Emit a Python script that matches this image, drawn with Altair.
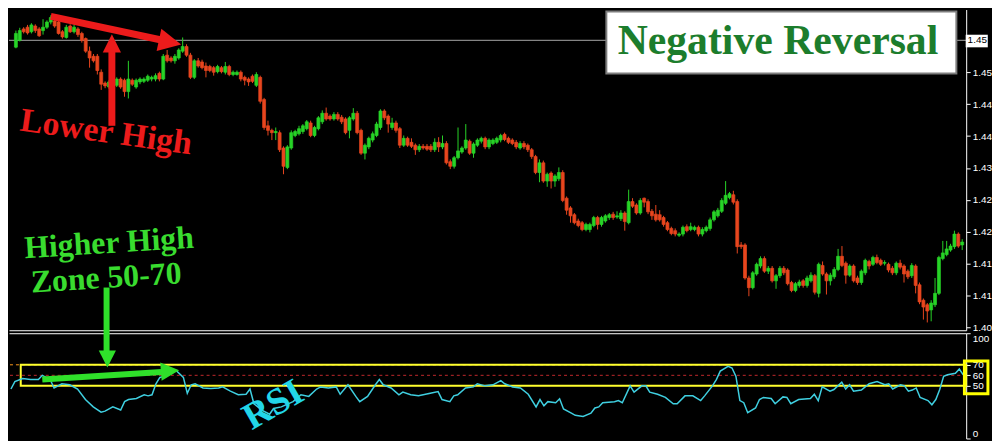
import altair as alt
import pandas as pd

# ---------------- candle data (price in points of 0.0001) ----------------
open_pts = [14560,14572,14592,14595,14587,14597,14592,14589,14595,14604,
14606,14604,14587,14577,14597,14587,14592,14584,14575,14553,
14544,14544,14516,14497,14490,14497,14493,14504,14502,14482,
14502,14490,14499,14500,14502,14504,14504,14514,14504,14546,
14541,14536,14541,14553,14561,14546,14507,14536,14534,14527,
14526,14524,14517,14524,14516,14526,14512,14512,14516,14507,
14504,14509,14493,14507,14468,14422,14414,14410,14410,14383,
14349,14383,14405,14408,14412,14417,14427,14405,14417,14429,
14444,14439,14434,14442,14437,14434,14414,14434,14444,14414,
14374,14385,14397,14405,14419,14448,14439,14419,14427,14417,
14388,14400,14393,14388,14380,14386,14386,14386,14380,14393,
14385,14391,14359,14351,14366,14376,14383,14395,14374,14388,
14395,14400,14385,14391,14393,14397,14407,14400,14397,14393,
14383,14391,14388,14380,14368,14340,14357,14325,14339,14325,
14329,14340,14295,14278,14266,14255,14252,14240,14240,14247,
14261,14249,14255,14261,14267,14262,14259,14269,14252,14289,
14283,14269,14295,14289,14272,14267,14266,14261,14252,14242,
14238,14230,14232,14245,14240,14240,14244,14232,14238,14242,
14257,14264,14272,14286,14296,14301,14289,14213,14213,14155,
14138,14162,14176,14189,14167,14172,14150,14159,14172,14169,
14147,14133,14142,14150,14142,14150,14159,14128,14177,14162,
14150,14157,14170,14193,14181,14160,14176,14155,14147,14164,
14184,14179,14191,14186,14181,14179,14172,14164,14181,14176,
14167,14159,14176,14143,14116,14108,14099,14108,14128,14189,
14196,14204,14210,14232,14213]

close_pts = [14584,14589,14587,14585,14599,14589,14580,14595,14604,14612,
14597,14584,14578,14595,14587,14595,14582,14572,14553,14541,
14536,14519,14495,14492,14499,14493,14504,14490,14482,14504,
14495,14502,14504,14504,14509,14507,14510,14504,14544,14536,
14536,14544,14555,14561,14546,14507,14536,14527,14524,14519,
14519,14516,14526,14517,14526,14512,14516,14516,14504,14502,
14499,14500,14512,14465,14419,14414,14410,14412,14380,14351,
14385,14410,14412,14417,14422,14429,14405,14419,14436,14444,
14434,14434,14442,14434,14429,14410,14436,14444,14410,14374,
14388,14400,14408,14425,14448,14436,14425,14427,14414,14388,
14400,14388,14386,14380,14386,14383,14381,14380,14393,14385,
14391,14357,14351,14366,14378,14383,14397,14374,14390,14397,
14400,14385,14397,14397,14400,14405,14398,14393,14391,14385,
14391,14385,14380,14368,14340,14357,14325,14337,14325,14334,
14340,14291,14274,14264,14252,14247,14240,14249,14249,14261,
14249,14261,14264,14266,14261,14264,14269,14254,14289,14281,
14269,14291,14288,14271,14264,14257,14257,14249,14240,14233,
14232,14232,14244,14238,14245,14244,14232,14240,14244,14257,
14271,14274,14291,14300,14303,14288,14210,14210,14155,14138,
14164,14179,14189,14167,14172,14150,14159,14172,14164,14145,
14133,14145,14148,14142,14155,14160,14130,14179,14162,14150,
14160,14170,14193,14177,14160,14176,14150,14147,14167,14186,
14176,14191,14182,14179,14182,14169,14164,14181,14174,14162,
14157,14177,14142,14113,14104,14097,14111,14128,14191,14199,
14206,14211,14232,14211,14218]

high_pts = [14589,14594,14595,14599,14602,14600,14595,14609,14607,14616,
14609,14606,14590,14599,14600,14600,14595,14587,14577,14561,
14548,14548,14521,14500,14502,14500,14507,14507,14505,14536,
14505,14505,14507,14507,14512,14510,14514,14517,14548,14555,
14544,14548,14558,14577,14565,14550,14539,14541,14538,14533,
14529,14527,14529,14527,14534,14529,14519,14519,14519,14510,
14507,14512,14516,14510,14471,14431,14417,14419,14414,14386,
14388,14414,14415,14422,14425,14432,14431,14422,14439,14449,
14454,14442,14446,14446,14441,14437,14439,14453,14448,14417,
14391,14403,14412,14429,14451,14451,14442,14436,14431,14420,
14405,14403,14400,14391,14390,14390,14390,14390,14400,14402,
14405,14395,14363,14369,14419,14386,14425,14398,14393,14400,
14403,14403,14400,14400,14403,14408,14410,14403,14400,14397,
14395,14395,14391,14383,14371,14363,14361,14340,14342,14337,
14349,14344,14298,14281,14269,14259,14255,14252,14252,14264,
14264,14264,14267,14269,14271,14272,14274,14272,14310,14295,
14286,14295,14296,14293,14276,14283,14274,14264,14255,14245,
14242,14235,14247,14249,14252,14247,14247,14244,14247,14261,
14274,14278,14295,14325,14306,14308,14293,14218,14216,14159,
14167,14182,14193,14193,14176,14176,14162,14176,14176,14172,
14150,14148,14152,14153,14159,14165,14162,14182,14184,14165,
14164,14174,14206,14211,14184,14179,14179,14159,14170,14189,
14187,14194,14196,14189,14186,14182,14176,14184,14187,14179,
14170,14181,14179,14147,14119,14111,14116,14155,14194,14220,
14220,14215,14238,14235,14223]

low_pts = [14558,14570,14584,14582,14584,14585,14578,14582,14592,14600,
14594,14582,14575,14575,14585,14584,14578,14568,14550,14524,
14533,14512,14485,14488,14487,14490,14490,14487,14473,14470,
14492,14487,14495,14497,14499,14500,14500,14500,14502,14533,
14533,14531,14538,14550,14543,14504,14504,14524,14521,14507,
14516,14510,14514,14514,14512,14509,14509,14510,14500,14493,
14492,14497,14490,14461,14415,14405,14397,14397,14376,14337,
14346,14380,14402,14405,14408,14414,14402,14402,14414,14425,
14431,14431,14431,14431,14425,14407,14400,14431,14407,14371,
14363,14381,14393,14402,14415,14432,14410,14415,14410,14383,
14385,14385,14383,14371,14376,14380,14378,14376,14376,14376,
14381,14354,14346,14347,14363,14373,14380,14371,14366,14385,
14391,14381,14381,14388,14390,14393,14395,14390,14388,14381,
14380,14381,14376,14364,14337,14323,14322,14315,14312,14315,
14325,14288,14266,14252,14249,14244,14237,14237,14235,14244,
14240,14245,14252,14257,14257,14259,14255,14238,14249,14278,
14266,14266,14279,14267,14257,14254,14254,14245,14237,14230,
14228,14227,14228,14235,14237,14237,14228,14228,14235,14238,
14254,14261,14269,14283,14293,14284,14198,14206,14152,14123,
14135,14159,14172,14164,14162,14147,14136,14155,14160,14142,
14130,14130,14138,14138,14138,14147,14126,14121,14159,14126,
14142,14153,14167,14174,14145,14157,14147,14143,14143,14160,
14170,14176,14179,14176,14177,14165,14160,14160,14170,14147,
14153,14155,14128,14109,14082,14077,14079,14104,14125,14186,
14193,14201,14206,14208,14204]

# ---------------- RSI(14) read at bar positions ----------------
rsi_bar = [0,1,3,5,7,8,10,11,13,15,
17,19,21,23,24,26,28,29,30,32,
34,35,36,37,38,39,41,42,44,45,
46,47,49,51,53,54,56,58,60,61,
62,64,66,67,69,72,74,76,78,79,
81,83,84,86,88,89,91,93,94,95,
97,99,100,102,104,107,109,110,112,113,
114,116,118,119,121,123,125,126,128,130,
132,134,135,136,137,139,140,141,143,144,
146,148,149,150,151,154,155,156,158,159,
161,162,163,165,167,169,170,172,174,176,
177,179,180,181,183,184,185,186,187,188,
190,191,192,194,195,197,198,199,201,204,
205,206,207,209,210,212,213,214,215,217,
219,221,223,224,225,227,228,229,230,231,
232,234,235,236,237,238,239,241,242,243]
rsi_val = [47,54,57,56,56,60,56,48,52,51,
47,37,30,25,26,30,27,35,37,38,
41.5,40.5,41.5,52,58,59,61.6,65,58,43,
51,52,48,47.5,48,49,45,41.5,42,47,
33,27,23,28.5,30,35,41.5,40,47,49,
48,49,42,51,40,35,40,51,56,51,
48,41.5,44,41.5,40.5,43,44.5,37,35,40.5,
41.5,48,49,52,50,51,55,52,49,48,
42,30,37,31,35,34,37.7,28,24,22,
21,24,29,30,34,35,36,34,50,44,
50,50,44,42,39,33,33,40.5,40.5,36,
40.5,50,56,64,68.6,67,59,36,34,24.5,
29,37,39,38,33,39.5,39,33,37,38,
42,36,49,45,46.5,53.5,47,51,45,46,
52,54,51,52,47,51,50,45,46,48,
39,36,32,37,46.5,59,60.6,62,66,60.5]

# axis values
price_ticks = [1.4068, 1.4124, 1.4180, 1.4236, 1.4292, 1.4348, 1.4404, 1.4460, 1.4516]
marked_price = 1.4572
rsi_ticks = [0, 50, 60, 70, 100]
rsi_levels = [60, 70]

UP = "#27d327"
DOWN = "#e8461e"
RED = "#ec1b1b"
GREEN_ARROW = "#2fe02a"
GREEN_TEXT = "#39dc2f"
CYAN = "#3fcfe0"
HEAD = "M-1,-1L1,0L-1,1Z"
SERIF = "Liberation Serif"

candles = pd.DataFrame({
    "bar": list(range(len(open_pts))),
    "open": [v / 10000 for v in open_pts],
    "close": [v / 10000 for v in close_pts],
    "high": [v / 10000 for v in high_pts],
    "low": [v / 10000 for v in low_pts],
})
candles["dir"] = ["up" if c >= o else "down" for o, c in zip(open_pts, close_pts)]
rsi_df = pd.DataFrame({"bar": rsi_bar, "rsi": rsi_val})

W = 964
H_TOP = 323
H_RSI = 106

xs = alt.Scale(domain=[-0.5, 243.75], nice=False, zero=False)
ps = alt.Scale(domain=[1.40633, 1.4626], nice=False, zero=False)
rs = alt.Scale(domain=[0, 100], nice=False, zero=False)
dir_scale = alt.Scale(domain=["up", "down"], range=[UP, DOWN])

x_axis_top = alt.Axis(orient="bottom", labels=False, ticks=False, grid=False, title=None,
                      domainColor="white", domainWidth=1)
x_axis_rsi = alt.Axis(orient="top", labels=False, ticks=False, grid=False, title=None,
                      domainColor="white", domainWidth=1)
price_axis = alt.Axis(orient="right", values=price_ticks, format=".4f",
                      labelExpr="substring(datum.label, 0, 4)", labelColor="white",
                      labelFont="Liberation Sans", labelFontSize=10, labelPadding=2,
                      tickColor="white", tickSize=4, domainColor="white", grid=False,
                      title=None, labelOverlap=False)
rsi_axis = alt.Axis(orient="right", values=rsi_ticks, labelColor="white",
                    labelFont="Liberation Sans", labelFontSize=10, labelPadding=2,
                    tickColor="white", tickSize=4, domainColor="white", grid=False,
                    title=None, labelOverlap=False, labelFlush=True)


def XT(f):
    return alt.X(f"{f}:Q", scale=xs, axis=x_axis_top)


def PY(f):
    return alt.Y(f"{f}:Q", scale=ps, axis=price_axis)


def XR(f):
    return alt.X(f"{f}:Q", scale=xs, axis=x_axis_rsi)


def RY(f):
    return alt.Y(f"{f}:Q", scale=rs, axis=rsi_axis)


# ---------------- top pane ----------------
line_df = pd.DataFrame({"p": [marked_price]})
price_line = alt.Chart(line_df).mark_rule(color="#a6a6a6", strokeWidth=1).encode(y=PY("p"))

wicks = alt.Chart(candles).mark_rule(strokeWidth=1, clip=True).encode(
    x=XT("bar"), y=PY("low"), y2="high",
    color=alt.Color("dir:N", scale=dir_scale, legend=None))
bodies = alt.Chart(candles).mark_bar(size=3, clip=True, strokeWidth=0.7).encode(
    x=XT("bar"), y=PY("open"), y2="close",
    color=alt.Color("dir:N", scale=dir_scale, legend=None),
    stroke=alt.Stroke("dir:N", scale=dir_scale, legend=None))

# red arrows (Lower High)
red_shaft_df = pd.DataFrame({"x": [9, 24.75], "y": [1.46141, 1.44220],
                             "x2": [37.5, 24.75], "y2": [1.45725, 1.45580]})
red_shafts = alt.Chart(red_shaft_df).mark_rule(color=RED, strokeWidth=7).encode(
    x=XT("x"), y=PY("y"), x2="x2", y2="y2")
red_head_df = pd.DataFrame({"x": [39.75, 24.75], "y": [1.45687, 1.45665],
                            "a": [12, 270], "s": [520, 340]})
red_heads = alt.Chart(red_head_df).mark_point(shape=HEAD, filled=True, color=RED, opacity=1,
                                              strokeWidth=0).encode(
    x=XT("x"), y=PY("y"), angle=alt.Angle("a:Q", scale=None), size=alt.Size("s:Q", scale=None))

lower_df = pd.DataFrame({"x": [23.25], "y": [1.44101], "t": ["Lower High"]})
lower_txt = alt.Chart(lower_df).mark_text(font=SERIF, fontWeight="bold", fontSize=34, color=RED,
                                          angle=8, align="center", baseline="middle").encode(
    x=XT("x"), y=PY("y"), text="t:N")

hh_df = pd.DataFrame({"x": [24.0, 23.25], "y": [1.42163, 1.41551],
                      "t": ["Higher High", "Zone 50-70"]})
hh_txt = alt.Chart(hh_df).mark_text(font=SERIF, fontWeight="bold", fontSize=32, color=GREEN_TEXT,
                                    angle=356.5, align="center", baseline="middle").encode(
    x=XT("x"), y=PY("y"), text="t:N")

box_df = pd.DataFrame({"x": [152.25], "x2": [242.5], "y": [1.46226], "y2": [1.45138]})
title_box = alt.Chart(box_df).mark_rect(fill="white", stroke="#7d7d7d", strokeWidth=2).encode(
    x=XT("x"), x2="x2", y=PY("y"), y2="y2")
title_df = pd.DataFrame({"x": [196.5], "y": [1.45699], "t": ["Negative Reversal"]})
title_txt = alt.Chart(title_df).mark_text(font=SERIF, fontWeight="bold", fontSize=42,
                                          color="#1c7d2c", align="center",
                                          baseline="middle").encode(
    x=XT("x"), y=PY("y"), text="t:N")

mark_box_df = pd.DataFrame({"x": [244.9], "x2": [250.6], "y": [1.45818], "y2": [1.45597]})
mark_box = alt.Chart(mark_box_df).mark_rect(fill="white").encode(
    x=XT("x"), x2="x2", y=PY("y"), y2="y2")
mark_txt_df = pd.DataFrame({"x": [245.4], "y": [marked_price], "t": ["1.45"]})
mark_txt = alt.Chart(mark_txt_df).mark_text(font="Liberation Sans", fontSize=10, color="black",
                                            align="left", baseline="middle").encode(
    x=XT("x"), y=PY("y"), text="t:N")

top = alt.layer(price_line, wicks, bodies, red_shafts, red_heads, lower_txt, hh_txt,
                title_box, title_txt, mark_box, mark_txt).properties(width=W, height=H_TOP)

# ---------------- RSI pane ----------------
lvl_df = pd.DataFrame({"v": rsi_levels, "c": ["#c0282b", "#ff9a1a"]})
levels = alt.Chart(lvl_df).mark_rule(strokeWidth=1, strokeDash=[3, 3]).encode(
    y=RY("v"), color=alt.Color("c:N", scale=None))

zone_df = pd.DataFrame({"x": [2.5], "x2": [243.75], "y": [50], "y2": [70]})
zone_box = alt.Chart(zone_df).mark_rect(fillOpacity=0, stroke="#ffff2e", strokeWidth=2).encode(
    x=XR("x"), x2="x2", y=RY("y"), y2="y2")

rsi_line = alt.Chart(rsi_df).mark_line(color=CYAN, strokeWidth=1.5, clip=True).encode(
    x=XR("bar"), y=RY("rsi"))

lab_box_df = pd.DataFrame({"x": [243.3], "x2": [249.3], "y": [73.6], "y2": [42.5]})
lab_box = alt.Chart(lab_box_df).mark_rect(fillOpacity=0, stroke="#ffff00", strokeWidth=3).encode(
    x=XR("x"), x2="x2", y=RY("y"), y2="y2")

g_shaft_df = pd.DataFrame({"x": [24.4, 8.0], "y": [143.4, 56.1], "x2": [24.4, 38.5], "y2": [82.0, 63.2]})
g_shafts = alt.Chart(g_shaft_df).mark_rule(color=GREEN_ARROW, strokeWidth=6).encode(
    x=XR("x"), y=RY("y"), x2="x2", y2="y2")
g_head_df = pd.DataFrame({"x": [24.6, 40.6], "y": [75.5, 64.2], "a": [90, 355.5], "s": [300, 340]})
g_heads = alt.Chart(g_head_df).mark_point(shape=HEAD, filled=True, color=GREEN_ARROW, opacity=1,
                                          strokeWidth=0).encode(
    x=XR("x"), y=RY("y"), angle=alt.Angle("a:Q", scale=None), size=alt.Size("s:Q", scale=None))

rsi_txt_df = pd.DataFrame({"x": [67.0], "y": [31.5], "t": ["RSI"]})
rsi_txt = alt.Chart(rsi_txt_df).mark_text(font=SERIF, fontWeight="bold", fontSize=38, color="#22d6e8",
                                          angle=330, align="center", baseline="middle").encode(
    x=XR("x"), y=RY("y"), text="t:N")

bottom = alt.layer(levels, zone_box, rsi_line, lab_box, rsi_txt, g_shafts, g_heads).properties(
    width=W, height=H_RSI)

chart = alt.vconcat(top, bottom, spacing=3, bounds="flush", padding=0).resolve_scale(
    x="independent", y="independent", color="independent"
).configure(background="black").configure_view(strokeWidth=0)

chart.save("out.html", embed_options={"renderer": "svg", "actions": False})
